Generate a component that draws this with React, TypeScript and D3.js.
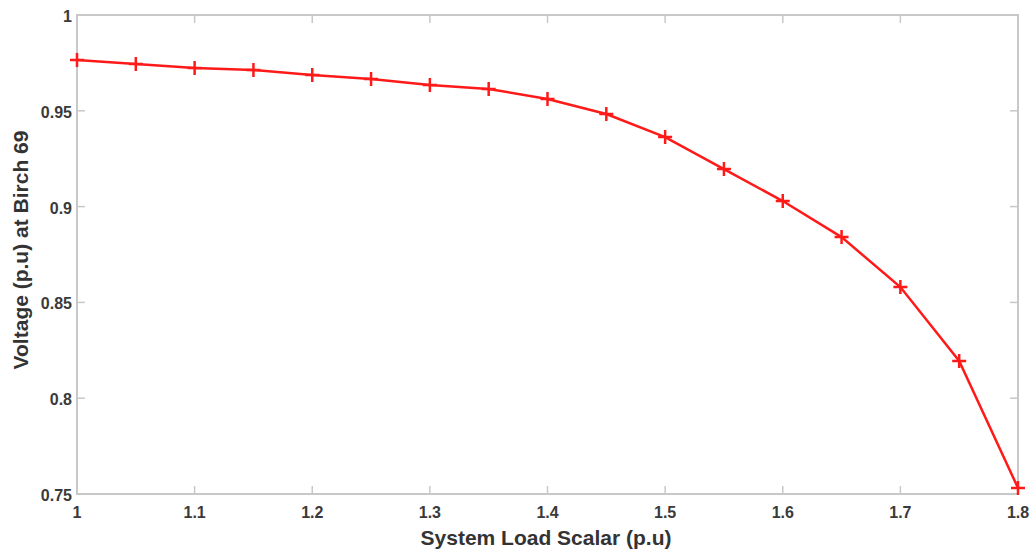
import React, { useEffect, useRef } from "react";
import * as d3 from "d3";

// load scalar (p.u) and voltage at Birch 69 (p.u)
const loadScalar = [1.0, 1.05, 1.1, 1.15, 1.2, 1.25, 1.3, 1.35, 1.4, 1.45, 1.5, 1.55, 1.6, 1.65, 1.7, 1.75, 1.8];
const voltage = [0.9765, 0.9744, 0.9723, 0.9713, 0.9687, 0.9666, 0.9635, 0.9614, 0.9562, 0.9483, 0.9363, 0.9196, 0.9029, 0.8841, 0.858, 0.8194, 0.7531];
const xTicks = [1, 1.1, 1.2, 1.3, 1.4, 1.5, 1.6, 1.7, 1.8];
const yTicks = [0.75, 0.8, 0.85, 0.9, 0.95, 1];

const W = 1036;
const H = 552;

const App = () => {
  const ref = useRef<SVGSVGElement>(null);

  useEffect(() => {
    const svg = d3.select(ref.current);
    svg.selectAll("*").remove();

    const left = 77, right = 1018, top = 15, bottom = 494;
    const x = d3.scaleLinear().domain([1, 1.8]).range([left, right]);
    const y = d3.scaleLinear().domain([0.75, 1]).range([bottom, top]);

    const axisColor = "#c8c8c8";
    const font = "Liberation Sans, Arial, sans-serif";

    // box
    svg
      .append("rect")
      .attr("x", left)
      .attr("y", top)
      .attr("width", right - left)
      .attr("height", bottom - top)
      .attr("fill", "none")
      .attr("stroke", axisColor)
      .attr("stroke-width", 2);

    // ticks point inward on all four sides
    const tickLen = 8;
    xTicks.forEach((t) => {
      svg.append("line").attr("x1", x(t)).attr("x2", x(t)).attr("y1", bottom).attr("y2", bottom - tickLen).attr("stroke", axisColor).attr("stroke-width", 1.5);
      svg.append("line").attr("x1", x(t)).attr("x2", x(t)).attr("y1", top).attr("y2", top + tickLen).attr("stroke", axisColor).attr("stroke-width", 1.5);
      svg
        .append("text")
        .attr("x", x(t))
        .attr("y", bottom + 24)
        .attr("text-anchor", "middle")
        .style("font-family", font)
        .style("font-weight", "bold")
        .style("font-size", "16px")
        .style("fill", "#3a3a3a")
        .text(d3.format("")(t));
    });

    yTicks.forEach((t) => {
      svg.append("line").attr("x1", left).attr("x2", left + tickLen).attr("y1", y(t)).attr("y2", y(t)).attr("stroke", axisColor).attr("stroke-width", 1.5);
      svg.append("line").attr("x1", right).attr("x2", right - tickLen).attr("y1", y(t)).attr("y2", y(t)).attr("stroke", axisColor).attr("stroke-width", 1.5);
      svg
        .append("text")
        .attr("x", left - 5)
        .attr("y", y(t) + 7)
        .attr("text-anchor", "end")
        .style("font-family", font)
        .style("font-weight", "bold")
        .style("font-size", "16px")
        .style("fill", "#3a3a3a")
        .text(d3.format("")(t));
    });

    // axis labels
    svg
      .append("text")
      .attr("x", 546)
      .attr("y", 545)
      .attr("text-anchor", "middle")
      .style("font-family", font)
      .style("font-weight", "bold")
      .style("font-size", "21px")
      .style("fill", "#333")
      .text("System Load Scalar (p.u)");

    svg
      .append("text")
      .attr("transform", "translate(28, 250) rotate(-90)")
      .attr("text-anchor", "middle")
      .style("font-family", font)
      .style("font-weight", "bold")
      .style("font-size", "21px")
      .style("fill", "#333")
      .text("Voltage (p.u) at Birch 69");

    const pts = loadScalar.map((v, i) => [v, voltage[i]] as [number, number]);

    const line = d3
      .line<[number, number]>()
      .x((d) => x(d[0]))
      .y((d) => y(d[1]));

    svg
      .append("path")
      .datum(pts)
      .attr("d", line)
      .attr("fill", "none")
      .attr("stroke", "#ff1a1a")
      .attr("stroke-width", 2.5);

    // + markers
    const m = 7;
    svg
      .selectAll("path.marker")
      .data(pts)
      .join("path")
      .attr("class", "marker")
      .attr("d", (d) => {
        const cx = x(d[0]);
        const cy = y(d[1]);
        return `M${cx - m},${cy}H${cx + m}M${cx},${cy - m}V${cy + m}`;
      })
      .attr("stroke", "#ff1a1a")
      .attr("stroke-width", 2.5)
      .attr("fill", "none");
  }, []);

  return (
    <svg
      ref={ref}
      width={W}
      height={H}
      style={{ position: "absolute", left: 0, top: 0, background: "#fff" }}
    ></svg>
  );
};

export default App;
